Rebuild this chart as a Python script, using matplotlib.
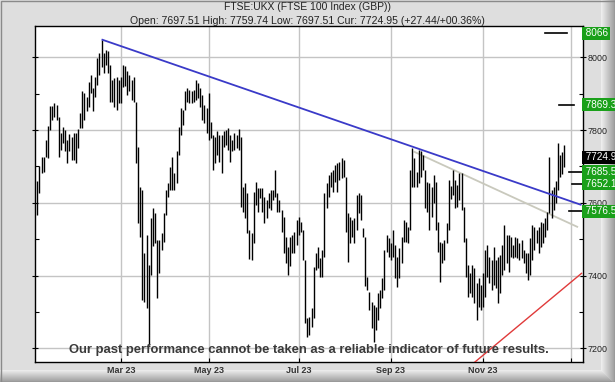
import numpy as np
import pandas as pd
import matplotlib
matplotlib.use("Agg")
import matplotlib.pyplot as plt
from matplotlib.patches import Rectangle

# ---------------- data ----------------
uk_holidays = ["2023-04-07", "2023-04-10", "2023-05-01", "2023-05-08", "2023-05-29",
               "2023-08-28", "2023-12-25", "2023-12-26", "2024-01-01"]
first_day = "2023-01-05"
last_axis_day = "2024-01-09"

highs = [7660, 7701, 7727, 7727, 7773, 7811, 7866, 7866, 7875, 7869,
         7835, 7793, 7809, 7800, 7773, 7789, 7782, 7793, 7791, 7802,
         7846, 7906, 7901, 7892, 7933, 7951, 7915, 7946, 7997, 8011,
         8048, 8013, 8020, 8016, 7979, 7938, 7942, 7946, 7938, 7946,
         7979, 7975, 7961, 7951, 7938, 7945, 7878, 7754, 7644, 7635,
         7461, 7511, 7429, 7558, 7585, 7571, 7498, 7498, 7516, 7571,
         7635, 7654, 7699, 7727, 7681, 7741, 7809, 7860, 7855, 7906,
         7915, 7910, 7906, 7910, 7938, 7929, 7915, 7896, 7869, 7860,
         7901, 7823, 7786, 7782, 7796, 7786, 7786, 7796, 7800, 7805,
         7786, 7773, 7791, 7786, 7802, 7782, 7644, 7654, 7626, 7525,
         7516, 7631, 7658, 7640, 7640, 7640, 7617, 7608, 7626, 7635,
         7635, 7690, 7626, 7608, 7580, 7562, 7507, 7479, 7507, 7511,
         7521, 7553, 7562, 7548, 7525, 7443, 7282, 7287, 7310, 7424,
         7461, 7479, 7447, 7470, 7626, 7654, 7676, 7686, 7690, 7704,
         7709, 7713, 7722, 7718, 7672, 7571, 7562, 7553, 7557, 7621,
         7626, 7621, 7530, 7507, 7397, 7356, 7328, 7319, 7314, 7351,
         7360, 7392, 7470, 7511, 7502, 7489, 7525, 7484, 7452, 7475,
         7507, 7553, 7548, 7534, 7690, 7750, 7722, 7686, 7745, 7741,
         7731, 7690, 7658, 7654, 7644, 7676, 7658, 7548, 7493, 7489,
         7498, 7544, 7663, 7645, 7690, 7663, 7649, 7681, 7681, 7589,
         7502, 7429, 7406, 7429, 7420, 7379, 7392, 7374, 7406, 7470,
         7484, 7452, 7443, 7479, 7443, 7452, 7456, 7484, 7539, 7511,
         7511, 7507, 7484, 7507, 7502, 7489, 7498, 7470, 7461, 7461,
         7502, 7539, 7534, 7525, 7534, 7548, 7544, 7557, 7576, 7727,
         7635, 7644, 7660, 7764, 7731, 7740, 7760]
lows = [7566, 7626, 7683, 7686, 7727, 7724, 7800, 7828, 7835, 7828,
        7727, 7745, 7763, 7741, 7710, 7741, 7718, 7718, 7709, 7750,
        7805, 7805, 7828, 7851, 7864, 7901, 7851, 7892, 7924, 7951,
        7974, 7956, 7979, 7956, 7878, 7878, 7864, 7855, 7874, 7875,
        7919, 7920, 7897, 7906, 7883, 7878, 7709, 7544, 7507, 7333,
        7328, 7310, 7209, 7401, 7480, 7489, 7338, 7406, 7470, 7493,
        7566, 7617, 7635, 7635, 7635, 7654, 7731, 7786, 7814, 7855,
        7878, 7874, 7874, 7878, 7883, 7887, 7864, 7828, 7819, 7791,
        7773, 7777, 7690, 7709, 7731, 7713, 7681, 7754, 7759, 7745,
        7713, 7741, 7745, 7750, 7745, 7589, 7576, 7557, 7516, 7445,
        7443, 7489, 7594, 7576, 7612, 7576, 7544, 7557, 7585, 7580,
        7608, 7617, 7576, 7576, 7521, 7461, 7434, 7401, 7425, 7461,
        7461, 7484, 7511, 7521, 7443, 7269, 7232, 7237, 7259, 7282,
        7415, 7420, 7397, 7397, 7452, 7585, 7617, 7644, 7631, 7658,
        7631, 7663, 7667, 7672, 7521, 7438, 7489, 7507, 7489, 7525,
        7571, 7553, 7507, 7370, 7360, 7305, 7255, 7218, 7250, 7278,
        7310, 7337, 7360, 7465, 7452, 7443, 7452, 7392, 7369, 7392,
        7434, 7493, 7493, 7489, 7525, 7644, 7644, 7644, 7654, 7672,
        7690, 7585, 7576, 7525, 7562, 7599, 7525, 7466, 7383, 7434,
        7443, 7489, 7525, 7610, 7621, 7585, 7589, 7608, 7580, 7493,
        7397, 7342, 7351, 7342, 7324, 7278, 7314, 7305, 7314, 7342,
        7397, 7379, 7360, 7374, 7365, 7324, 7351, 7401, 7415, 7434,
        7411, 7452, 7447, 7452, 7447, 7443, 7447, 7434, 7406, 7388,
        7401, 7443, 7470, 7489, 7461, 7479, 7489, 7507, 7525, 7571,
        7557, 7580, 7600, 7635, 7672, 7680, 7698]

title_line1 = "FTSE:UKX (FTSE 100 Index (GBP))"
title_line2 = "Open: 7697.51 High: 7759.74 Low: 7697.51 Cur: 7724.95 (+27.44/+00.36%)"
disclaimer = "Our past performance cannot be taken as a reliable indicator of future results."

# trend lines: (date, price) pairs
blue_line = [("2023-02-16", 8049), ("2024-01-09", 7594)]
grey_line = [("2023-09-18", 7740), ("2024-01-05", 7534)]
red_line = [("2023-10-26", 7161), ("2024-01-09", 7406)]

# targets drawn as short dashes with green boxes on the right
targets = [8066.0, 7869.38, 7685.56, 7652.13, 7576.54]
target_text = ["8066", "7869.38", "7685.56", "7652.13", "7576.54"]
current_price = 7724.95

y_major = [7200, 7400, 7600, 7800, 8000]
y_minor = [7300, 7500, 7700, 7900]
month_labels = {"2023-03": "Mar 23", "2023-05": "May 23", "2023-07": "Jul 23",
                "2023-09": "Sep 23", "2023-11": "Nov 23", "2024-01": ""}

# ---------------- build axis (trading-day index) ----------------
days = pd.bdate_range(first_day, last_axis_day)
days = days[~days.isin(pd.to_datetime(uk_holidays))]
pos = {d: i for i, d in enumerate(days)}
x = np.arange(len(highs))

def xi(date):
    return pos[pd.Timestamp(date)]

tick_pos, tick_lab = [], []
prev = None
for i, d in enumerate(days):
    key = d.strftime("%Y-%m")
    if key != prev and key in month_labels:
        tick_pos.append(i)
        tick_lab.append(month_labels[key])
    prev = key

W, H = 615, 382
fig = plt.figure(figsize=(W / 100, H / 100), dpi=100)
fig.patch.set_facecolor("#dedede")

# frame shading (background)
bg = fig.add_axes([0, 0, 1, 1], zorder=-10)
bg.set_xlim(0, W); bg.set_ylim(H, 0); bg.axis("off")
for k, c in enumerate(np.linspace(0.93, 0.62, 14)):
    bg.add_patch(Rectangle((W - 14 + k, 0), 1, H, color=(c, c, c), lw=0))
for k, c in enumerate(np.linspace(0.92, 0.62, 12)):
    bg.add_patch(Rectangle((0, H - 12 + k), W - 14 + k, 1, color=(c, c, c), lw=0))
bg.add_patch(Rectangle((0.5, 0.5), W - 1, H - 1, fill=False, ec="#8a8a8a", lw=1))

top_px, bot_px = 26.0, 362.3
ax = fig.add_axes([35 / W, (H - bot_px) / H, 548 / W, (bot_px - top_px) / H])
ax.set_facecolor("white")
ax.set_xlim(-1.07, 254.7)
ax.set_ylim(7161.5, 8086)

for t in tick_pos:
    ax.axvline(t, color="#c4c4c4", lw=1.0, zorder=0)
for v in y_major:
    ax.axhline(v, color="#c4c4c4", lw=1.0, zorder=0)

ax.vlines(x, lows, highs, color="black", lw=1.0, zorder=3)

ax.plot([xi(blue_line[0][0]), xi(blue_line[1][0])], [blue_line[0][1], blue_line[1][1]],
        color="#3a3ac8", lw=1.3, zorder=4, solid_capstyle="butt")
ax.plot([xi(grey_line[0][0]), xi(grey_line[1][0])], [grey_line[0][1], grey_line[1][1]],
        color="#c9c9bd", lw=1.3, zorder=2)
ax.plot([xi(red_line[0][0]), xi(red_line[1][0])], [red_line[0][1], red_line[1][1]],
        color="#e03a3a", lw=1.0, zorder=4)

dash_spans = [(0.93, 0.97), (0.956, 0.984), (0.974, 1.0), (0.98, 1.0), (0.974, 1.0)]
for v, (a, b) in zip(targets, dash_spans):
    ax.plot([a, b], [v, v], transform=ax.get_yaxis_transform(), color="black",
            lw=1.2, zorder=5, clip_on=False)

fam = ["Liberation Sans", "DejaVu Sans"]
ax.set_yticks(y_major)
ax.set_yticks(y_minor, minor=True)
ax.yaxis.tick_right()
ax.tick_params(axis="y", which="major", direction="inout", length=5, width=0.8,
               labelsize=6.4, pad=1, left=True)
ax.tick_params(axis="y", which="minor", direction="in", length=3, width=0.8, left=True)
for lab in ax.get_yticklabels():
    lab.set_family(fam)
    lab.set_color("#222222")
ax.set_xticks(tick_pos)
ax.set_xticklabels(tick_lab)
ax.tick_params(axis="x", direction="in", length=3, width=0.8, labelsize=6.5, pad=3)
for lab in ax.get_xticklabels():
    lab.set_family(fam)
    lab.set_fontweight("bold")
    lab.set_color("#333333")
for s in ax.spines.values():
    s.set_color("black"); s.set_linewidth(1.0)

for v, t in zip(targets, target_text):
    ax.text(1.0, v, " " + t, transform=ax.get_yaxis_transform(), ha="left", va="center",
            fontsize=7.2, color="white", family=fam, clip_on=False, zorder=6,
            bbox=dict(boxstyle="square,pad=0.15", fc="#1aa01a", ec="none"))
ax.text(1.0, current_price, " %.2f" % current_price, transform=ax.get_yaxis_transform(),
        ha="left", va="center", fontsize=7.2, color="white", family=fam,
        clip_on=False, zorder=6, bbox=dict(boxstyle="square,pad=0.15", fc="black", ec="none"))

fig.text(0.5, 1 - 7.5 / H, title_line1, ha="center", va="center", fontsize=7.5,
         family=fam, color="#222222")
fig.text(0.5, 1 - 20.5 / H, title_line2, ha="center", va="center", fontsize=7.6,
         family=fam, color="#222222")
ax.text(0.5, 1 - (350 - top_px) / (bot_px - top_px), disclaimer, transform=ax.transAxes,
        ha="center", va="center", fontsize=9.4, fontweight="bold", color="#3a3a3a",
        family=fam, zorder=7)

fig.savefig("out.png", dpi=100, facecolor=fig.get_facecolor())
